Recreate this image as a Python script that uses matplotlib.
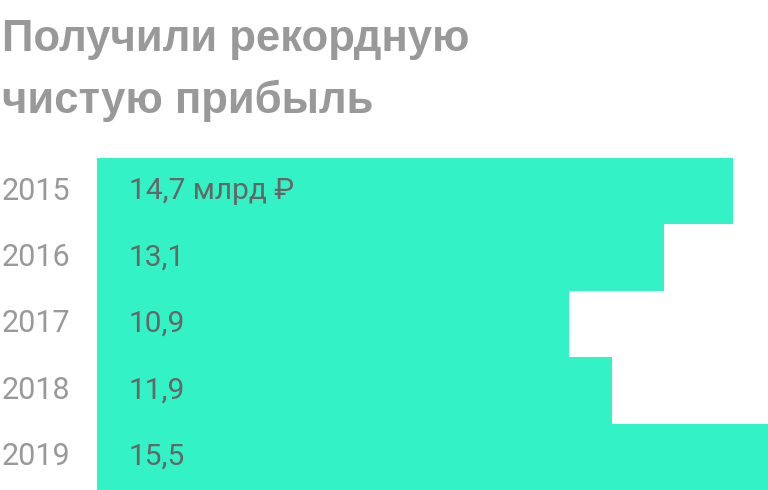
import matplotlib.pyplot as plt

years = ['2015', '2016', '2017', '2018', '2019']
profit = [14.7, 13.1, 10.9, 11.9, 15.5]
value_labels = ['14,7 млрд ₽', '13,1', '10,9', '11,9', '15,5']

plt.rcParams['font.family'] = ['Roboto', 'DejaVu Sans']

fig = plt.figure(figsize=(7.68, 4.90), dpi=100)
ax = fig.add_axes([97 / 768, 0, 1 - 97 / 768, 332 / 490])

pos = list(range(len(years)))
ax.barh(pos, profit, height=1.0, color='#33F3C6', linewidth=0)
ax.set_xlim(0, 15.5)
ax.set_ylim(len(years) - 0.5, -0.5)
ax.axis('off')

for i, (yr, lab) in enumerate(zip(years, value_labels)):
    ax.annotate(lab, xy=(0, i), xytext=(32, 0), textcoords='offset pixels',
                va='center', ha='left', fontsize=21.5, color='#666666')
    ax.annotate(yr, xy=(0, i), xytext=(-27, 0), textcoords='offset pixels',
                va='center', ha='right', fontsize=22, color='#999999')

title_font = ['Liberation Sans', 'DejaVu Sans']
fig.text(2 / 768, 1 - 51 / 490, 'Получили рекордную', fontsize=31.5,
         fontweight='bold', color='#999999', va='baseline', ha='left',
         family=title_font)
fig.text(2 / 768, 1 - 113 / 490, 'чистую прибыль', fontsize=31.5,
         fontweight='bold', color='#999999', va='baseline', ha='left',
         family=title_font)

fig.savefig('out.png', dpi=100)
